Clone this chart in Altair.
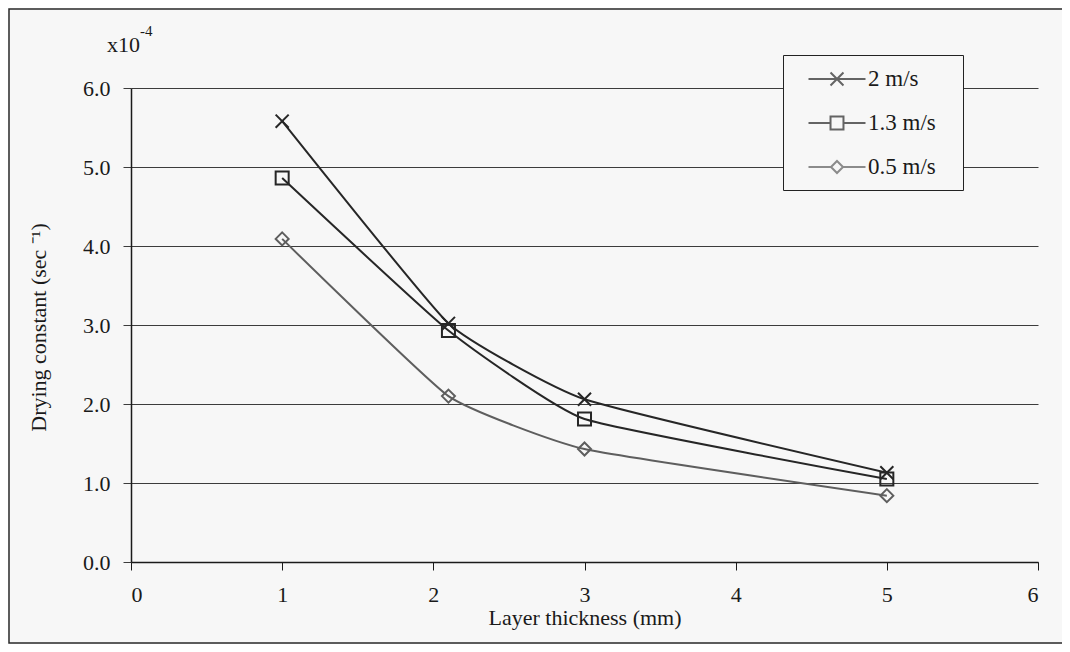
import altair as alt
import pandas as pd

# ---- data ----
series = ["2 m/s", "1.3 m/s", "0.5 m/s"]
thickness = [1, 2.1, 3, 5]
v_2ms = [5.58, 3.02, 2.06, 1.13]
v_13ms = [4.86, 2.93, 1.81, 1.05]
v_05ms = [4.09, 2.10, 1.43, 0.84]
x_ticks = [0, 1, 2, 3, 4, 5, 6]
y_ticks = [0, 1, 2, 3, 4, 5, 6]
exp_label = ["x10"]
exp_sup = ["-4"]

rows = []
for s, vals in zip(series, [v_2ms, v_13ms, v_05ms]):
    for t, v in zip(thickness, vals):
        rows.append({"series": s, "x": t, "y": v})
df = pd.DataFrame(rows)

FONT = "Liberation Serif"
BG = "#f7f7f7"
line_colors = ["#262626", "#262626", "#5e5e5e"]
marker_paths = [
    "M-1,-1L1,1M-1,1L1,-1",
    "M-1,-1L1,-1L1,1L-1,1Z",
    "M0,-1L1,0L0,1L-1,0Z",
]
marker_sizes = [170, 169, 150]
# legend symbols: a short line with the marker in its middle (unit = 12px)
legend_paths = [
    "M-2.375,0L2.375,0M-0.54,-0.54L0.54,0.54M-0.54,0.54L0.54,-0.54",
    "M-2.375,0L-0.54,0M0.54,0L2.375,0M-0.54,-0.54L0.54,-0.54L0.54,0.54L-0.54,0.54Z",
    "M-2.375,0L-0.5,0M0.5,0L2.375,0M0,-0.5L0.5,0L0,0.5L-0.5,0Z",
]

x_enc = alt.X(
    "x:Q",
    scale=alt.Scale(domain=[0, 6], nice=False),
    axis=alt.Axis(
        values=x_ticks, format="d", title="Layer thickness (mm)", grid=False,
        domainColor="#1a1a1a", domainWidth=1.5, tickColor="#1a1a1a", tickSize=8,
        labelFont=FONT, labelFontSize=22, labelColor="#1a1a1a", labelPadding=14,
        titleFont=FONT, titleFontSize=22, titleFontWeight="normal", titleColor="#1a1a1a",
        titleBaseline="alphabetic", titleY=62,
    ),
)
y_enc = alt.Y(
    "y:Q",
    scale=alt.Scale(domain=[0, 6], nice=False),
    axis=alt.Axis(
        values=y_ticks, format=".1f", title="Drying constant (sec \u207b\u00b9)", grid=True,
        gridColor="#3c3c3c", gridWidth=1, domainColor="#1a1a1a", domainWidth=1.5,
        tickColor="#3c3c3c", tickSize=8,
        labelFont=FONT, labelFontSize=22, labelColor="#1a1a1a", labelPadding=13,
        titleFont=FONT, titleFontSize=22, titleFontWeight="normal", titleColor="#1a1a1a",
        titleAngle=270, titleAlign="center", titleBaseline="alphabetic",
        titleX=-86, titleY=239,
    ),
)

color_scale = alt.Scale(domain=series, range=line_colors)

lines = alt.Chart(df).mark_line(interpolate="cardinal", tension=0.6).encode(
    x=x_enc, y=y_enc,
    color=alt.Color("series:N", scale=color_scale, legend=None),
    strokeWidth=alt.StrokeWidth("series:N", scale=alt.Scale(domain=series, range=[2, 2, 1.5]), legend=None),
)

points = alt.Chart(df).mark_point(filled=False, strokeWidth=2, opacity=1).encode(
    x=x_enc, y=y_enc,
    color=alt.Color("series:N", scale=color_scale, legend=None),
    shape=alt.Shape("series:N", scale=alt.Scale(domain=series, range=marker_paths), legend=None),
    size=alt.Size("series:N", scale=alt.Scale(domain=series, range=marker_sizes), legend=None),
)

leg = alt.Legend(
    orient="none", legendX=652, legendY=-33, title=None, direction="vertical",
    symbolSize=576, symbolStrokeWidth=2, symbolFillColor="transparent",
    symbolStrokeColor={"expr": "datum.value === '0.5 m/s' ? '#5e5e5e' : '#262626'"},
    symbolOffset=30,
    labelFont=FONT, labelFontSize=23, labelColor="#1a1a1a", labelOffset=18,
    labelExpr="datum.label + '\u2002\u2009\u200b'",
    strokeColor="#222222", fillColor=BG, padding=11, rowPadding=19,
)

legend_layer = alt.Chart(df).transform_filter("false").mark_point(filled=False, strokeWidth=2).encode(
    x=x_enc, y=y_enc,
    shape=alt.Shape("series:N", scale=alt.Scale(domain=series, range=legend_paths), legend=leg),
)

exp_text = alt.Chart(pd.DataFrame({"t": exp_label})).mark_text(
    font=FONT, fontSize=22, align="left", baseline="alphabetic", color="#1a1a1a"
).encode(text="t:N", x=alt.value(-24), y=alt.value(-36))

exp_sup_text = alt.Chart(pd.DataFrame({"t": exp_sup})).mark_text(
    font=FONT, fontSize=15, align="left", baseline="alphabetic", color="#1a1a1a"
).encode(text="t:N", x=alt.value(9), y=alt.value(-52))

frame = alt.Chart(pd.DataFrame({"t": ["frame"]})).mark_rect(
    fillOpacity=0, stroke="#2a2a2a", strokeWidth=1.5
).encode(x=alt.value(-122), x2=alt.value(945), y=alt.value(-79), y2=alt.value(555))

chart = alt.layer(frame, lines, points, legend_layer, exp_text, exp_sup_text).resolve_scale(
    shape="independent"
).properties(
    width=907, height=474,
    autosize=alt.AutoSizeParams(type="none"),
    padding={"left": 123, "top": 80, "right": 24, "bottom": 82},
    background=BG,
).configure_view(stroke=None)

chart.save("out.html", embed_options={"renderer": "svg", "actions": False})
